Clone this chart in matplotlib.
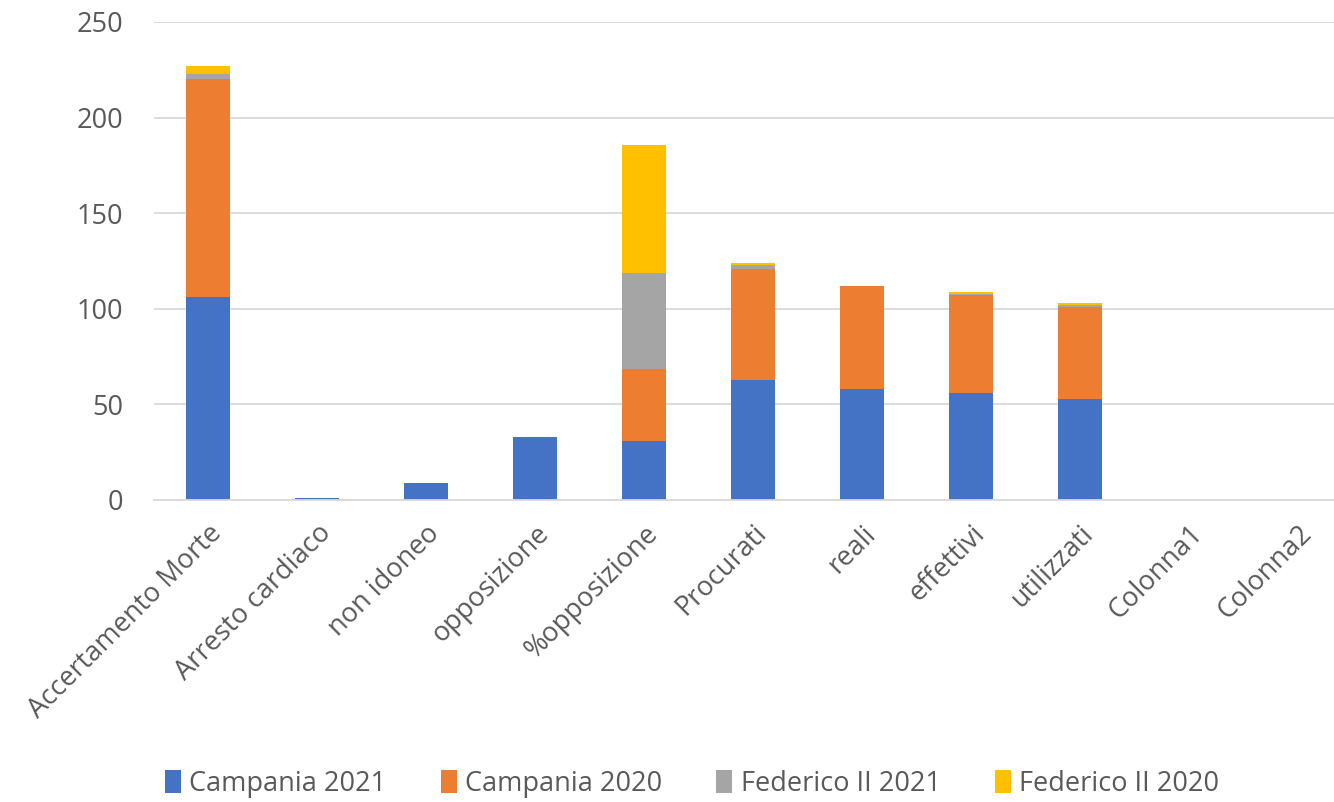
import numpy as np
import matplotlib.pyplot as plt
from matplotlib.patches import Patch

# data
categories = ["Accertamento Morte", "Arresto cardiaco", "non idoneo", "opposizione",
              "%opposizione", "Procurati", "reali", "effettivi", "utilizzati",
              "Colonna1", "Colonna2"]
campania_2021 = [106, 1, 9, 33, 31, 63, 58, 56, 53, 0, 0]
campania_2020 = [114, 0, 0, 0, 37.5, 58, 54, 51, 48, 0, 0]
federico_2021 = [3, 0, 0, 0, 50, 2, 0, 1, 1, 0, 0]
federico_2020 = [4, 0, 0, 0, 67, 1, 0, 1, 1, 0, 0]

series = [
    ("Campania 2021", campania_2021, "#4472c4"),
    ("Campania 2020", campania_2020, "#ed7d31"),
    ("Federico II 2021", federico_2021, "#a5a5a5"),
    ("Federico II 2020", federico_2020, "#ffc000"),
]

plt.rcParams['font.family'] = ['Open Sans', 'DejaVu Sans']
text_col = "#595959"

W, H = 1334, 802
fig = plt.figure(figsize=(W / 100, H / 100), dpi=100)
ax = fig.add_axes([153.5 / W, (H - 500) / H, 1199 / W, 478 / H])

x = np.arange(len(categories))
bottom = np.zeros(len(categories))
for name, vals, col in series:
    vals = np.array(vals, dtype=float)
    ax.bar(x, vals, 0.4, bottom=bottom, color=col, label=name, linewidth=0)
    bottom += vals

ax.set_xlim(-0.5, len(categories) - 0.5)
ax.set_ylim(0, 250)
ax.set_yticks(range(0, 251, 50))
ax.yaxis.grid(True, color="#d9d9d9", linewidth=1.3)
ax.set_axisbelow(True)
for s in ax.spines.values():
    s.set_visible(False)
ax.spines["bottom"].set_visible(True)
ax.spines["bottom"].set_color("#d9d9d9")
ax.spines["bottom"].set_linewidth(1.3)
ax.tick_params(length=0, labelsize=19.5, colors=text_col, pad=14)
ax.tick_params(axis="y", pad=22)
ax.set_xticks(x)
ax.set_xticklabels(categories, rotation=45, ha="right", va="top",
                   rotation_mode="anchor", fontsize=19.5, color=text_col)

handles = [Patch(facecolor=c, label=n) for n, _, c in series]
leg = fig.legend(handles=handles, loc="center", bbox_to_anchor=(692 / W, 1 - 784 / H),
                 ncol=4, frameon=False, fontsize=19.5, handlelength=0.6, handleheight=0.9,
                 handletextpad=0.3, columnspacing=2.0)
for t in leg.get_texts():
    t.set_color(text_col)

fig.savefig("out.png", dpi=100)
